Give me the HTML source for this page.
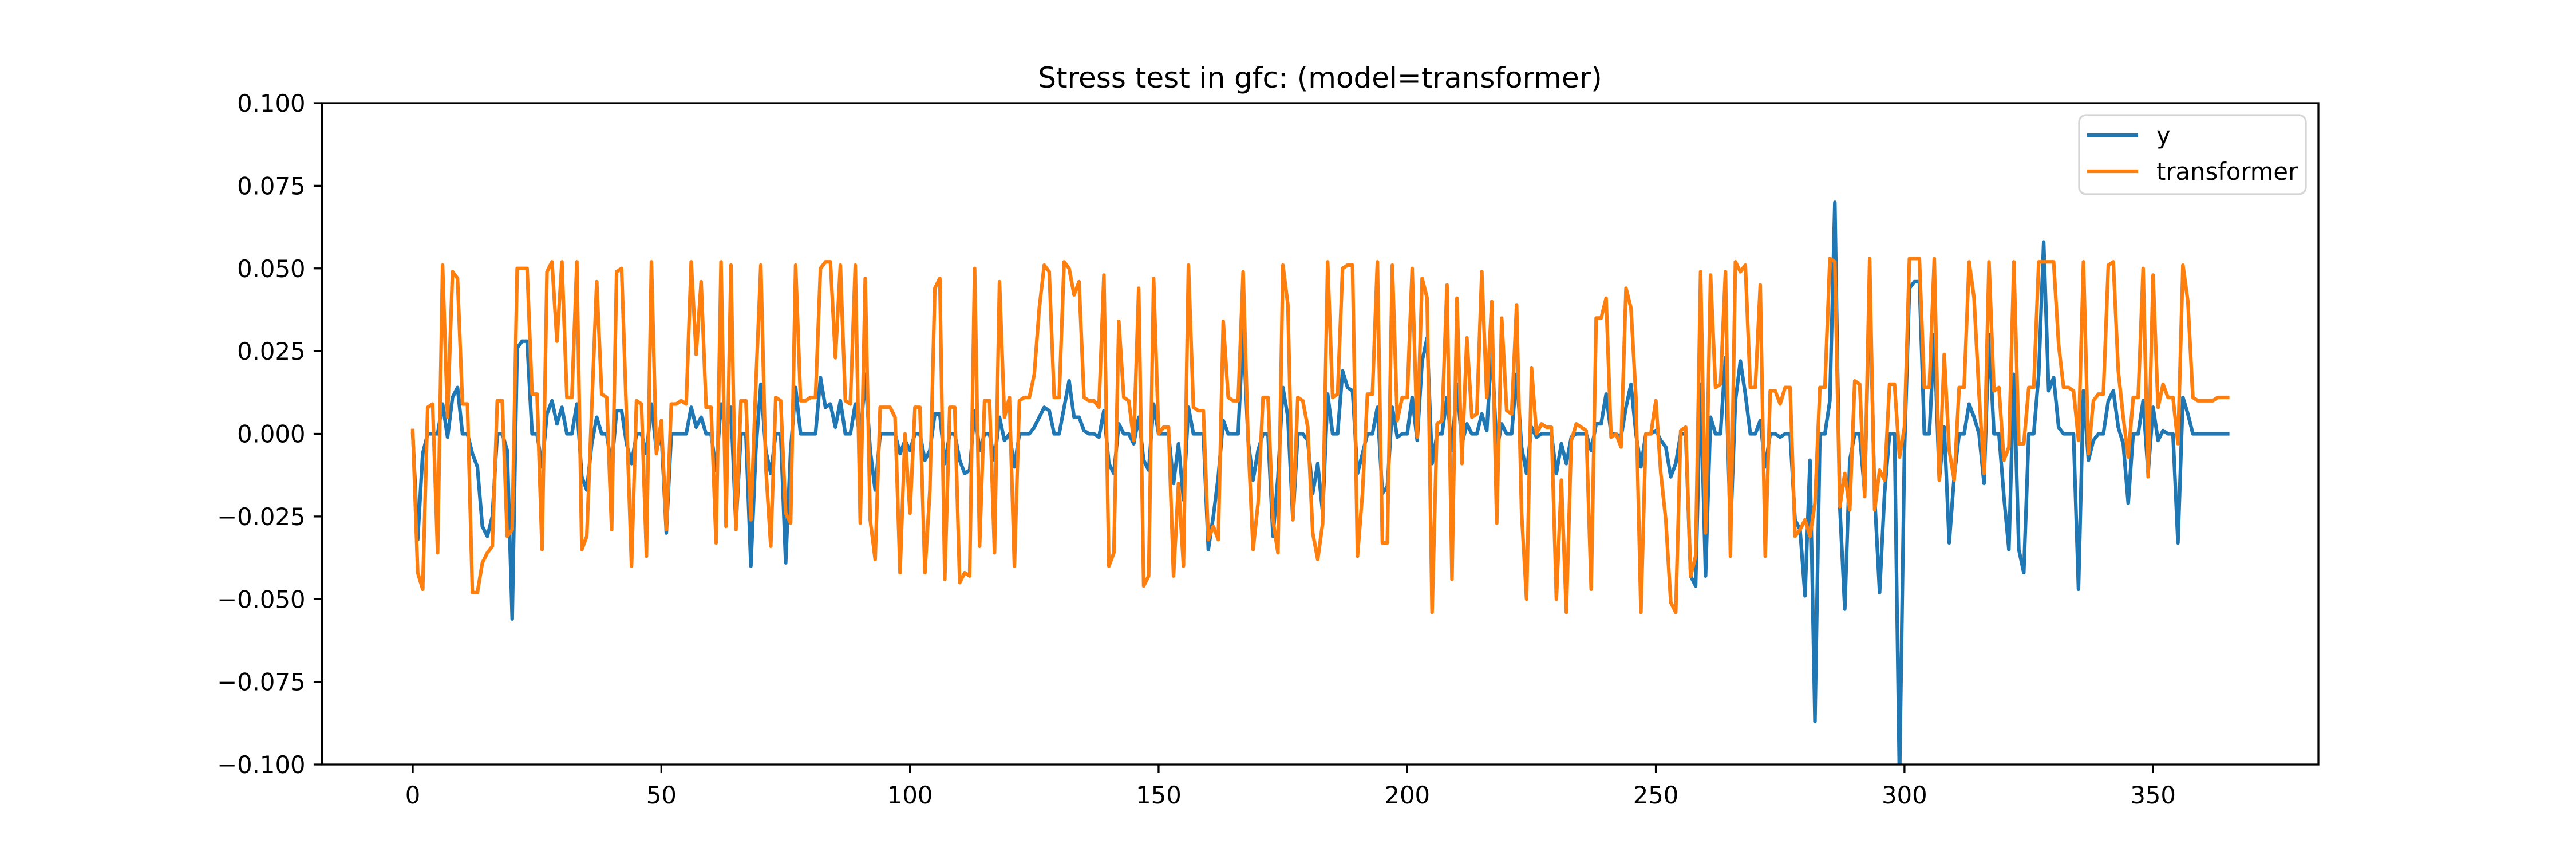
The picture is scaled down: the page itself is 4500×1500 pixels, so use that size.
<!DOCTYPE html>
<html><head><meta charset="utf-8"><style>
html,body{margin:0;padding:0;background:#fff;}
svg{display:block;font-family:"DejaVu Sans","Liberation Sans",sans-serif;}
</style></head><body>
<svg id="chart" width="4500" height="1500" viewBox="0 0 4500 1500" xmlns="http://www.w3.org/2000/svg">
<rect width="4500" height="1500" fill="#fff"/>
<defs><clipPath id="plotclip"><rect x="562.5" y="180" width="3487.5" height="1155"/></clipPath></defs>
<text x="2306" y="153" font-size="50" text-anchor="middle">Stress test in gfc: (model=transformer)</text>
<g id="series" clip-path="url(#plotclip)"></g>
<g id="axes"></g>
<g>
<rect x="3632" y="201" width="396" height="138" rx="12" fill="#fff" fill-opacity="0.8" stroke="#d5d5d5" stroke-width="3.3"/>
<line x1="3646" y1="236" x2="3735" y2="236" stroke="#1f77b4" stroke-width="6.25"/>
<text x="3767" y="251" font-size="41.7">y</text>
<line x1="3646" y1="299" x2="3735" y2="299" stroke="#ff7f0e" stroke-width="6.25"/>
<text x="3767" y="314" font-size="41.7">transformer</text>
</g>
</svg>
<script>
const xTicks = [0, 50, 100, 150, 200, 250, 300, 350];
const yTicks = [-0.100, -0.075, -0.050, -0.025, 0.000, 0.025, 0.050, 0.075, 0.100];
const yTickLabels = ["\u22120.100","\u22120.075","\u22120.050","\u22120.025","0.000","0.025","0.050","0.075","0.100"];
const yValues = [0,-0.032,-0.006,0,0,0,0.009,-0.001,0.011,0.014,0,0,-0.006,-0.010,-0.028,-0.031,-0.025,0,0,-0.005,-0.056,0.026,0.028,0.028,0,0,-0.010,0.006,0.010,0.003,0.008,0,0,0.009,-0.013,-0.017,-0.003,0.005,0,0,-0.010,0.007,0.007,-0.003,-0.009,0,0,-0.006,0.009,-0.005,0,-0.030,0,0,0,0,0.008,0.002,0.005,0,0,-0.011,0.009,
0,0.008,-0.028,0,0,-0.040,-0.005,0.015,-0.005,-0.012,0,0,-0.039,-0.005,0.014,0,0,0,0,0.017,0.008,0.009,0.002,0.010,0,0,0.009,-0.002,0.018,-0.005,-0.017,0,0,0,0,-0.006,-0.002,-0.005,0,0,-0.008,-0.005,0.006,0.006,-0.009,0,0,-0.008,-0.012,-0.011,0.007,-0.005,0,0,-0.008,0.005,-0.002,0,-0.010,0,0,0,
0.002,0.005,0.008,0.007,0,0,0.008,0.016,0.005,0.005,0.001,0,0,-0.001,0.007,-0.009,-0.012,0.003,0,0,-0.003,0.005,-0.008,-0.011,0.009,0,0,0,-0.015,-0.003,-0.020,0.008,0,0,0,-0.035,-0.025,-0.013,0.004,0,0,0,0.032,-0.002,-0.014,-0.005,0,0,-0.031,-0.013,0.014,0.005,-0.026,0,0,-0.002,-0.018,-0.009,-0.024,0.012,0,0,0.019,0.014,
0.013,-0.012,-0.006,0,0,0.008,-0.018,-0.016,0.008,-0.001,0,0,0.011,-0.002,0.022,0.029,-0.009,0,0,0.011,-0.005,0.015,-0.003,0.003,0,0,0.006,0.001,0.027,-0.005,0.003,0,0,0.018,-0.004,-0.012,0.002,-0.001,0,0,0,-0.012,-0.003,-0.009,-0.001,0,0,0,-0.005,0.003,0.003,0.012,0,0,-0.001,0.008,0.015,0,-0.010,0,0,0.001,-0.002,
-0.004,-0.013,-0.009,0,0,-0.043,-0.046,0.015,-0.043,0.005,0,0,0.023,-0.030,0.010,0.022,0.012,0,0,0.004,-0.010,0,0,-0.001,0,0,-0.026,-0.029,-0.049,-0.008,-0.087,0,0,0.010,0.070,-0.022,-0.053,-0.008,0,0,-0.018,0.046,-0.019,-0.048,-0.018,0,0,-0.105,-0.005,0.044,0.046,0.046,0,0,0.030,-0.014,0.002,-0.033,-0.013,0,0,0.009,
0.005,0,-0.015,0.030,0,0,-0.019,-0.035,0.018,-0.035,-0.042,0,0,0.018,0.058,0.013,0.017,0.002,0,0,0,-0.047,0.013,-0.008,-0.002,0,0,0.010,0.013,0.002,-0.003,-0.021,0,0,0.010,-0.012,0.008,-0.002,0.001,0,0,-0.033,0.011,0.006,0,0,0,0,0,0,0,0];
const transformerValues = [0.001,-0.042,-0.047,0.008,0.009,-0.036,0.051,0.005,0.049,0.047,0.009,0.009,-0.048,-0.048,-0.039,-0.036,-0.034,0.010,0.010,-0.031,-0.029,0.050,0.050,0.050,0.012,0.012,-0.035,0.049,0.052,0.028,0.052,0.011,0.011,0.052,-0.035,-0.031,0.008,0.046,0.012,0.011,-0.029,0.049,0.050,0.005,-0.040,0.010,0.009,-0.037,0.052,-0.006,0.004,-0.029,0.009,0.009,0.010,0.009,0.052,0.024,0.046,0.008,0.008,-0.033,0.052,
-0.028,0.051,-0.029,0.010,0.010,-0.026,0.015,0.051,-0.010,-0.034,0.011,0.010,-0.024,-0.027,0.051,0.010,0.010,0.011,0.011,0.050,0.052,0.052,0.023,0.051,0.010,0.009,0.051,-0.027,0.047,-0.026,-0.038,0.008,0.008,0.008,0.005,-0.042,0,-0.024,0.008,0.008,-0.042,-0.017,0.044,0.047,-0.044,0.008,0.008,-0.045,-0.042,-0.043,0.050,-0.034,0.010,0.010,-0.036,0.046,0.005,0.011,-0.040,0.010,0.011,0.011,
0.018,0.038,0.051,0.049,0.011,0.011,0.052,0.050,0.042,0.046,0.011,0.010,0.010,0.008,0.048,-0.040,-0.036,0.034,0.011,0.010,-0.002,0.044,-0.046,-0.043,0.047,0,0.002,0.002,-0.043,-0.015,-0.040,0.051,0.008,0.007,0.007,-0.032,-0.028,-0.032,0.034,0.011,0.010,0.010,0.049,-0.002,-0.035,-0.021,0.011,0.011,-0.026,-0.036,0.051,0.039,-0.026,0.011,0.010,0.002,-0.030,-0.038,-0.027,0.052,0.011,0.012,0.050,0.051,
0.051,-0.037,-0.018,0.012,0.012,0.052,-0.033,-0.033,0.051,0.004,0.011,0.011,0.050,-0.001,0.047,0.041,-0.054,0.003,0.004,0.045,-0.044,0.041,-0.009,0.029,0.005,0.006,0.049,0.011,0.040,-0.027,0.035,0.007,0.006,0.039,-0.024,-0.050,0.020,0,0.003,0.002,0.002,-0.050,-0.014,-0.054,-0.002,0.003,0.002,0.001,-0.047,0.035,0.035,0.041,-0.001,0,-0.004,0.044,0.038,0.011,-0.054,0,0,0.010,-0.012,
-0.026,-0.051,-0.054,0.001,0.002,-0.043,-0.037,0.049,-0.030,0.048,0.014,0.015,0.049,-0.037,0.052,0.049,0.051,0.014,0.014,0.045,-0.037,0.013,0.013,0.009,0.014,0.014,-0.031,-0.029,-0.026,-0.031,-0.021,0.014,0.014,0.053,0.052,-0.022,-0.012,-0.023,0.016,0.015,-0.019,0.053,-0.023,-0.011,-0.014,0.015,0.015,-0.007,0.002,0.053,0.053,0.053,0.014,0.014,0.053,-0.014,0.024,-0.005,-0.014,0.014,0.014,0.052,
0.041,0.012,-0.012,0.052,0.013,0.014,-0.008,-0.004,0.052,-0.003,-0.003,0.014,0.014,0.052,0.052,0.052,0.052,0.027,0.014,0.014,0.013,-0.002,0.052,-0.006,0.010,0.012,0.012,0.051,0.052,0.019,0.005,-0.007,0.011,0.011,0.050,-0.013,0.048,0.008,0.015,0.011,0.011,-0.003,0.051,0.040,0.011,0.010,0.010,0.010,0.010,0.011,0.011,0.011];

const NS = "http://www.w3.org/2000/svg";
const L = 562.5, R = 4050, T = 180, B = 1335;
const XMIN = -18.25, XMAX = 383.25, YMIN = -0.1, YMAX = 0.1;
function xScale(v){ return L + (v - XMIN) / (XMAX - XMIN) * (R - L); }
function yScale(v){ return B - (v - YMIN) / (YMAX - YMIN) * (B - T); }
function mk(tag, attrs){ const e = document.createElementNS(NS, tag); for (const k in attrs) e.setAttribute(k, attrs[k]); return e; }

const series = document.getElementById('series');
function drawLine(vals, color, name){
  const pts = vals.map((v,i) => xScale(i).toFixed(2) + "," + yScale(v).toFixed(2)).join(" ");
  const pl = mk('polyline', {points: pts, fill: 'none', stroke: color, 'stroke-width': 6.25, 'stroke-linejoin': 'round', 'stroke-linecap': 'square'});
  
  
  series.appendChild(pl);
}
drawLine(yValues, '#1f77b4', 'y-line');
drawLine(transformerValues, '#ff7f0e', 'transformer-line');

const axes = document.getElementById('axes');
const frame = mk('rect', {x: L, y: T, width: R - L, height: B - T, fill: 'none', stroke: '#000', 'stroke-width': 3.3});


axes.appendChild(frame);

xTicks.forEach(t => {
  const x = xScale(t);
  const tk = mk('line', {x1: x, y1: B, x2: x, y2: B + 14.6, stroke: '#000', 'stroke-width': 3.3});
  
  
  axes.appendChild(tk);
  const lb = mk('text', {x: x, y: B + 68, 'font-size': 41.7, 'text-anchor': 'middle'});
  
  
  lb.textContent = String(t);
  axes.appendChild(lb);
});
yTicks.forEach((t, i) => {
  const y = yScale(t);
  const tk = mk('line', {x1: L - 14.6, y1: y, x2: L, y2: y, stroke: '#000', 'stroke-width': 3.3});
  
  
  axes.appendChild(tk);
  const lb = mk('text', {x: L - 29, y: y + 15, 'font-size': 41.7, 'text-anchor': 'end'});
  
  
  lb.textContent = yTickLabels[i];
  axes.appendChild(lb);
});
</script>
</body></html>
